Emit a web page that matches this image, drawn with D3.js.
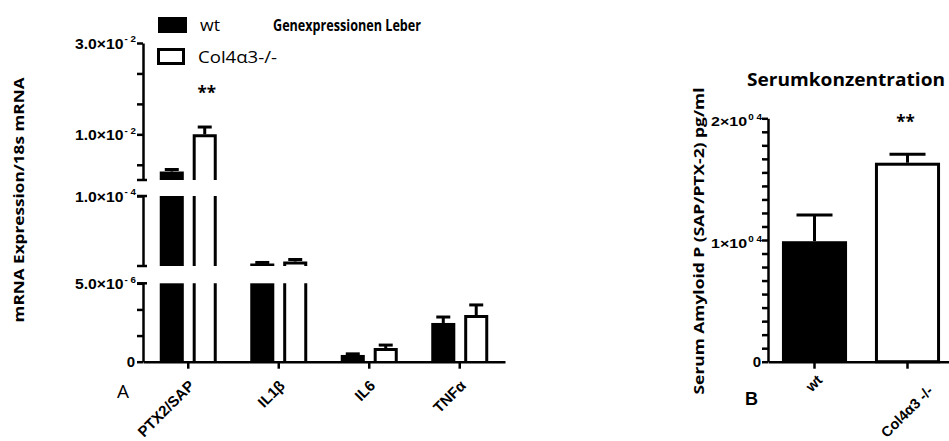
<!DOCTYPE html>
<html>
<head>
<meta charset="utf-8">
<script src="https://cdn.jsdelivr.net/npm/d3@7"></script>
<style>
  body { margin: 0; background: #fff; }
  svg { display: block; }
  text { font-family: "Open Sans", "Noto Sans", sans-serif; fill: #000; }
  text.tk { font-family: "Liberation Sans", Arial, sans-serif; font-weight: bold; }
</style>
</head>
<body>
<svg id="chart" width="949" height="441"></svg>
<script>
// ---- Panel A: hepatic gene expression (relative to 18s rRNA) ----
const genes = ["PTX2/SAP", "IL1β", "IL6", "TNFα"];
const groups = ["wt", "Col4α3-/-"];
const wtMean = [1.86e-3, 8.4e-6, 0.43e-6, 2.47e-6];
const wtSem  = [0.44e-3, 1.4e-6, 0.07e-6, 0.38e-6];
const koMean = [1.0e-2, 1.11e-5, 0.87e-6, 2.98e-6];
const koSem  = [1.6e-3, 2.7e-6, 0.19e-6, 0.64e-6];

// broken y axis: bottom, middle and top segment
const segDomains = [[0, 5e-6], [5e-6, 1e-4], [0, 3e-2]];
const segFloors  = [0, 5e-6, 1e-4];
const segTicks   = [[0, 5e-6 / 3, 1e-5 / 3, 5e-6], [1e-4], [1e-2 / 3, 1e-2, 5e-2 / 3, 7e-2 / 3, 3e-2]];
const segLabels  = [[[0, "0"], [5e-6, "5.0×10^- 6"]], [[1e-4, "1.0×10^- 4"]], [[1e-2, "1.0×10^- 2"], [3e-2, "3.0×10^- 2"]]];
const sigA = "**";

// ---- Panel B: serum SAP concentration ----
const serumGroups = ["wt", "Col4α3 -/-"];
const serumMean = [9900, 16350];
const serumSem  = [2150, 690];
const serumLabels = [[0, "0"], [1e4, "1×10^0 4"], [2e4, "2×10^0 4"]];
const sigB = "**";

const svg = d3.select("#chart");
const INK = "#000";
const C45 = Math.SQRT1_2;

// tick label of the form "mantissa^exponent" with a raised exponent
function expLabel(g, x, y, str, size) {
  const parts = str.split("^");
  const t = g.append("text").attr("class", "tk").attr("x", x).attr("y", y)
    .attr("text-anchor", "end").attr("font-size", size);
  t.append("tspan").text(parts[0]);
  if (parts[1] !== undefined) {
    t.append("tspan").attr("dy", -size * 0.45).attr("font-size", size * 0.62)
      .attr("dx", 1).text(parts[1]);
  }
  return t;
}
// squeeze/stretch a text run to a given advance width, keeping its height
function squeeze(t, w) {
  return t.attr("textLength", w).attr("lengthAdjust", "spacingAndGlyphs");
}
// category label running up-right at 45°, anchored at (x, y)
function diagLabel(g, x, y, str, size, anchor) {
  return g.append("text").attr("class", "tk")
    .attr("transform", `translate(${x},${y}) rotate(-45)`)
    .attr("text-anchor", anchor || "end").attr("font-size", size).text(str);
}

// ================= Panel A =================
const A = svg.append("g");
const axA = 143, baseA = 361.7;
const segRanges = [[baseA, 283.3], [266, 196], [180, 43]];
const segScales = segDomains.map((d, i) => d3.scaleLinear().domain(d).range(segRanges[i]));

const xA = d3.scaleBand().domain(genes).range([axA, 505]).padding(0);
const xInner = d3.scaleBand().domain(groups).range([-28.5, 28.5]).paddingInner(0.27);

const seriesA = [
  { key: groups[0], mean: wtMean, sem: wtSem, fill: INK },
  { key: groups[1], mean: koMean, sem: koSem, fill: "#fff" }
];

seriesA.forEach(s => {
  genes.forEach((gname, gi) => {
    const v = s.mean[gi];
    const x0 = xA(gname) + xA.bandwidth() / 2 + xInner(s.key);
    const w = xInner.bandwidth();
    let topSeg = 0;
    segFloors.forEach((f, si) => { if (v > f) topSeg = si; });
    segScales.forEach((sc, si) => {
      if (v <= segFloors[si]) return;
      const yb = sc(sc.domain()[0]);
      const yt = sc(Math.min(v, sc.domain()[1]));
      if (s.fill === INK) {
        A.append("rect").attr("x", x0).attr("y", yt).attr("width", w)
          .attr("height", yb - yt).attr("fill", INK);
      } else {
        A.append("rect").attr("x", x0).attr("y", yt).attr("width", w)
          .attr("height", yb - yt).attr("fill", "#fff");
        const p = d3.path();
        p.moveTo(x0 + 1.5, yb); p.lineTo(x0 + 1.5, yt + (si === topSeg ? 1.5 : 0));
        if (si === topSeg) p.lineTo(x0 + w - 1.5, yt + 1.5);
        else p.moveTo(x0 + w - 1.5, yt);
        p.lineTo(x0 + w - 1.5, yb);
        A.append("path").attr("d", p.toString()).attr("fill", "none")
          .attr("stroke", INK).attr("stroke-width", 3);
      }
    });
    // SEM whisker (upper only)
    const sc = segScales[topSeg];
    const cx = x0 + w / 2;
    const ye = sc(v + s.sem[gi]);
    A.append("line").attr("x1", cx).attr("x2", cx).attr("y1", sc(v)).attr("y2", ye)
      .attr("stroke", INK).attr("stroke-width", 3);
    A.append("line").attr("x1", cx - 7).attr("x2", cx + 7).attr("y1", ye).attr("y2", ye)
      .attr("stroke", INK).attr("stroke-width", 3);
  });
});

// segmented y axis
segScales.forEach((sc, si) => {
  const ax = A.append("g").attr("transform", `translate(${axA},0)`)
    .call(d3.axisLeft(sc).tickValues(segTicks[si]).tickSize(6).tickSizeOuter(0).tickFormat(""));
  ax.selectAll("path,line").attr("stroke", INK).attr("stroke-width", 2.5);
  const r = sc.range();
  const caps = [];
  if (si > 0) caps.push(r[0]);
  if (si < segScales.length - 1) caps.push(r[1]);
  caps.forEach(y => A.append("line").attr("x1", axA - 6).attr("x2", axA + 4)
    .attr("y1", y).attr("y2", y).attr("stroke", INK).attr("stroke-width", 2.5));
  segLabels[si].forEach(([v, lab]) => {
    if (lab.includes("^")) squeeze(expLabel(A, 136, sc(v) + 6, lab, 15), 61);
    else expLabel(A, 135, sc(v) + 5.5, lab, 15);
  });
});

// x axis
const xAxA = A.append("g").attr("transform", `translate(0,${baseA})`)
  .call(d3.axisBottom(xA).tickSize(7).tickSizeOuter(0).tickFormat(""));
xAxA.selectAll("path,line").attr("stroke", INK).attr("stroke-width", 2.5);

genes.forEach(gname => {
  const cx = xA(gname) + xA.bandwidth() / 2;
  diagLabel(A, cx + 7, baseA + 25, gname, 15);
});

// significance
{
  const cx = xA(genes[0]) + xA.bandwidth() / 2 + xInner(groups[1]) + xInner.bandwidth() / 2;
  A.append("text").attr("x", cx + 2).attr("y", 99).attr("text-anchor", "middle")
    .attr("font-weight", "bold").attr("font-size", 17).text(sigA);
}

// y title
squeeze(A.append("text").attr("transform", "translate(24,200) rotate(-90)")
  .attr("text-anchor", "middle").attr("font-weight", "bold").attr("font-size", 13.5)
  .text("mRNA Expression/18s mRNA"), 245);

// title
squeeze(A.append("text").attr("x", 273).attr("y", 31).attr("font-weight", "bold")
  .attr("font-size", 16).text("Genexpressionen Leber"), 148);

// legend
A.append("rect").attr("x", 158).attr("y", 17).attr("width", 29).attr("height", 16).attr("fill", INK);
A.append("rect").attr("x", 158.5).attr("y", 49.5).attr("width", 25).attr("height", 14)
  .attr("fill", "#fff").attr("stroke", INK).attr("stroke-width", 3);
squeeze(A.append("text").attr("x", 200).attr("y", 31).attr("font-size", 16.5).text(groups[0]), 20);
squeeze(A.append("text").attr("x", 198).attr("y", 63).attr("font-size", 16.5).text(groups[1]), 79);

// panel letter
A.append("text").attr("x", 117).attr("y", 398).attr("font-size", 19).text("A");

// ================= Panel B =================
const B = svg.append("g");
const axB = 768, baseB = 361.7;
const yB = d3.scaleLinear().domain([0, 2e4]).range([baseB, 118.3]);
const xB = d3.scaleBand().domain(serumGroups).range([axB, 954]).paddingInner(0.3).paddingOuter(0.15);

serumGroups.forEach((gname, i) => {
  const x0 = xB(gname), w = xB.bandwidth();
  const v = serumMean[i];
  const cx = x0 + w / 2;
  const ye = yB(v + serumSem[i]);
  B.append("line").attr("x1", cx).attr("x2", cx).attr("y1", yB(v)).attr("y2", ye)
    .attr("stroke", INK).attr("stroke-width", 3);
  B.append("line").attr("x1", cx - 18).attr("x2", cx + 18).attr("y1", ye).attr("y2", ye)
    .attr("stroke", INK).attr("stroke-width", 3);
  if (i === 0) {
    B.append("rect").attr("x", x0).attr("y", yB(v)).attr("width", w)
      .attr("height", baseB - yB(v)).attr("fill", INK);
  } else {
    B.append("rect").attr("x", x0 + 1.5).attr("y", yB(v) + 1.5).attr("width", w - 3)
      .attr("height", baseB - yB(v) - 1.5).attr("fill", "#fff")
      .attr("stroke", INK).attr("stroke-width", 3);
  }
});

const yAxB = B.append("g").attr("transform", `translate(${axB},0)`)
  .call(d3.axisLeft(yB).tickValues(d3.range(0, 19).map(i => i * 1e4 / 9)).tickSize(6)
    .tickSizeOuter(0).tickFormat(""));
yAxB.selectAll("path,line").attr("stroke", INK).attr("stroke-width", 2.5);
serumLabels.forEach(([v, lab]) => {
  if (lab.includes("^")) squeeze(expLabel(B, 762, yB(v) + 8, lab, 13.5), 51);
  else expLabel(B, 761, yB(v) + 5.5, lab, 15);
});

const xAxB = B.append("g").attr("transform", `translate(0,${baseB})`)
  .call(d3.axisBottom(xB).tickSize(7).tickSizeOuter(0).tickFormat(""));
xAxB.selectAll("path,line").attr("stroke", INK).attr("stroke-width", 2.5);

// group labels are centred on their tick along the diagonal
serumGroups.forEach(gname => {
  const cx = xB(gname) + xB.bandwidth() / 2;
  const t = diagLabel(B, 0, 0, gname, 14.5, "middle");
  const off = t.node().getComputedTextLength() / 2 * C45;
  t.attr("transform", `translate(${cx + 3},${baseB + 16 + off * 1.6}) rotate(-45)`);
});

B.append("text").attr("x", xB(serumGroups[1]) + xB.bandwidth() / 2 - 2).attr("y", 128)
  .attr("text-anchor", "middle").attr("font-weight", "bold").attr("font-size", 17).text(sigB);

squeeze(B.append("text").attr("x", 747).attr("y", 86).attr("font-weight", "bold")
  .attr("font-size", 17).text("Serumkonzentration"), 198);

squeeze(B.append("text").attr("transform", "translate(704,241) rotate(-90)")
  .attr("text-anchor", "middle").attr("font-weight", "bold").attr("font-size", 13.5)
  .text("Serum Amyloid P (SAP/PTX-2) pg/ml"), 307);

B.append("text").attr("class", "tk").attr("x", 745).attr("y", 405)
  .attr("font-size", 18).text("B");
</script>
</body>
</html>
